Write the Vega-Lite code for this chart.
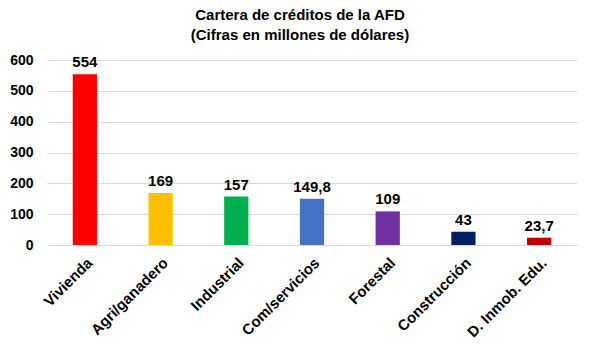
{
  "$schema": "https://vega.github.io/schema/vega-lite/v6.json",
  "width": 530,
  "height": 185,
  "autosize": {"type": "none"},
  "padding": {"left": 47, "top": 60, "right": 23, "bottom": 110},
  "background": "white",
  "title": {
    "text": ["Cartera de créditos de la AFD", "(Cifras en millones de dólares)"],
    "font": "Liberation Sans",
    "fontSize": 15,
    "fontWeight": "bold",
    "color": "#000000",
    "anchor": "middle",
    "dx": -12,
    "offset": 10,
    "lineHeight": 20
  },
  "data": {
    "values": [
      {"sector": "Vivienda", "valor": 554, "etiqueta": "554", "color": "#FF0000"},
      {"sector": "Agri/ganadero", "valor": 169, "etiqueta": "169", "color": "#FFC000"},
      {"sector": "Industrial", "valor": 157, "etiqueta": "157", "color": "#00B050"},
      {"sector": "Com/servicios", "valor": 149.8, "etiqueta": "149,8", "color": "#4472C4"},
      {"sector": "Forestal", "valor": 109, "etiqueta": "109", "color": "#7030A0"},
      {"sector": "Construcción", "valor": 43, "etiqueta": "43", "color": "#002060"},
      {"sector": "D. Inmob. Edu.", "valor": 23.7, "etiqueta": "23,7", "color": "#C00000"}
    ]
  },
  "encoding": {
    "x": {
      "field": "sector",
      "type": "nominal",
      "sort": null,
      "scale": {"paddingInner": 0.68, "paddingOuter": 0.34},
      "axis": {
        "title": null,
        "labelAngle": -45,
        "labelFont": "Liberation Sans",
        "labelFontSize": 15,
        "labelFontWeight": "bold",
        "labelColor": "#000000",
        "ticks": false,
        "domain": false,
        "labelPadding": 10
      }
    },
    "y": {
      "field": "valor",
      "type": "quantitative",
      "scale": {"domain": [0, 600]},
      "axis": {
        "title": null,
        "values": [0, 100, 200, 300, 400, 500, 600],
        "labelFont": "Liberation Sans",
        "labelFontSize": 14,
        "labelFontWeight": "bold",
        "labelColor": "#000000",
        "ticks": false,
        "domain": false,
        "labelPadding": 14,
        "grid": true,
        "gridColor": "#D9D9D9",
        "gridWidth": 1
      }
    }
  },
  "layer": [
    {
      "mark": {"type": "bar"},
      "encoding": {
        "color": {"field": "color", "type": "nominal", "scale": null, "legend": null}
      }
    },
    {
      "mark": {
        "type": "text",
        "baseline": "bottom",
        "dy": -4,
        "font": "Liberation Sans",
        "fontSize": 15,
        "fontWeight": "bold",
        "color": "#000000"
      },
      "encoding": {
        "text": {"field": "etiqueta", "type": "nominal"}
      }
    }
  ],
  "config": {
    "view": {"stroke": null}
  }
}
